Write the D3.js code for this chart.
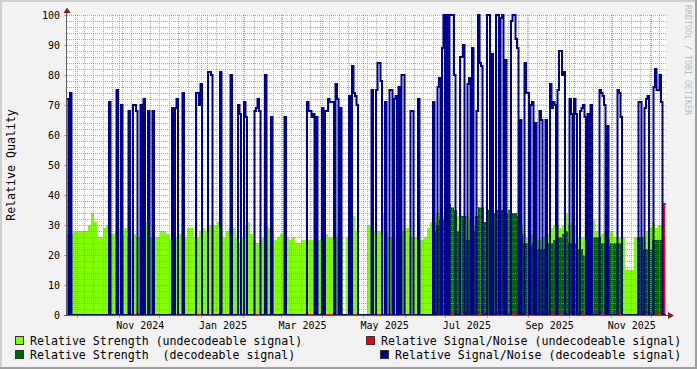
<!DOCTYPE html>
<html>
<head>
<meta charset="utf-8">
<script src="https://cdnjs.cloudflare.com/ajax/libs/d3/7.8.5/d3.min.js"></script>
<style>
  body { margin: 0; background: #f2f2f2; }
  svg { display: block; }
  text { font-family: "DejaVu Sans Mono", monospace; white-space: pre; }
</style>
</head>
<body>
<div id="chart"></div>
<script>
// strength samples: one every ~2.23 days, s/n samples twice as often
var firstSample = new Date(2024, 8, 23, 8, 24);
var stepMs = 192470000;
var snrStepMs = stepMs / 2;

// Relative Strength (undecodeable signal), light green area
var strengthUndecodeable = [
  27,27,28,28,28,28,28,30,34,31, 26,26,29,30,27,27,28,29,27,29,
  26,25,27,26,26,26,31,26,26,26, 26,28,28,27,25,26,26,27,28,26,
  29,29,26,26,28,29,28,30,30,30, 31,29,26,28,29,29,26,24,26,30,
  31,27,25,24,25,26,30,29,28,25, 26,27,26,26,25,26,24,24,25,25,
  25,25,25,25,25,25,27,26,26,26, 27,26,null,26,28,33,28,null,null,null,
  30,29,28,28,28,34,28,26,26,26, 26,28,28,29,26,26,26,25,25,26,
  29,31,31,34,33,33,34,35,33,35, 33,33,31,33,32,30,33,34,34,31,
  32,31,33,35,35,34,34,33,33,34, 31,30,27,26,27,27,25,25,26,26,
  27,29,30,30,29,30,34,30,31,30, 26,26,26,26,26,32,28,26,27,28,
  26,28,26,26,26,26,15,15,15,26, 26,26,26,28,29,31,29,30,30,26
];

// Relative Strength (decodeable signal), dark green area
var strengthDecodeable = [
  0,0,0,0,0,0,0,0,0,0, 0,0,0,0,0,0,0,0,0,0,
  0,0,0,0,0,0,0,0,0,0, 0,0,0,0,0,0,0,0,0,0,
  0,0,0,0,0,0,0,0,0,0, 0,0,0,0,0,0,0,0,0,0,
  0,0,0,0,0,0,0,0,0,0, 0,0,0,0,0,0,0,0,0,0,
  0,0,0,0,0,0,0,0,0,0, 0,0,0,0,0,0,0,0,0,0,
  0,0,0,0,0,0,0,0,0,0, 0,0,0,0,0,0,0,0,0,0,
  0,0,28,30,32,32,33,37,36,35, 28,33,33,25,25,28,33,36,36,31,
  35,35,34,35,35,35,34,35,34,34, 33,27,24,24,23,24,22,22,22,22,
  24,24,25,26,26,27,28,24,24,24, 22,22,20,22,24,26,26,26,24,24,
  23,24,24,24,24,0,0,0,0,0, 26,26,22,22,22,25,25,25,25,0
];

// Relative Signal/Noise (undecodeable signal), red line
var snrUndecodeable = [
  0,0,0,0,0,0,0,0,0,0, 0,0,0,0,0,0,0,0,0,0,
  0,0,0,0,0,0,0,0,0,0, 0,0,0,0,0,0,0,0,0,0,
  0,0,0,0,0,0,0,0,0,0, 0,0,0,0,0,0,0,0,0,0,
  0,0,0,0,0,0,0,0,0,0, 0,0,0,0,0,0,0,0,0,0,
  0,0,0,0,0,0,0,0,0,0, 0,0,0,0,0,0,0,0,0,0,
  0,0,0,0,0,0,0,0,0,0, 0,0,0,0,0,0,0,0,0,0,
  0,0,0,0,0,0,0,0,0,0, 0,0,0,0,0,0,0,0,0,0,
  0,0,0,0,0,0,0,0,0,0, 0,0,0,0,0,0,0,0,0,0,
  0,0,0,0,0,0,0,0,0,0, 0,0,0,0,0,0,0,0,0,0,
  0,0,0,0,0,0,0,0,0,0, 0,0,0,0,0,0,0,0,0,37
];

// Relative Signal/Noise (decodeable signal), blue line (half-column samples)
var snrDecodeable = [
  72,0,74,0,0,0,0,0,0,0, 0,0,0,0,0,0,0,0,0,0,
  0,0,0,0,0,0,0,0,71,0, 0,0,0,75,0,0,70,0,0,0,
  0,68,0,0,70,70,68,0,0,70, 0,72,0,0,68,0,0,68,0,0,
  0,0,0,0,0,0,0,0,0,0, 69,0,69,72,0,0,0,74,0,0,
  0,0,0,0,0,0,74,74,70,77, 0,0,0,0,81,81,80,0,0,0,
  0,0,81,0,0,0,0,0,0,80, 0,0,0,0,70,67,0,0,71,66,
  0,0,0,0,0,68,69,72,68,0, 0,0,80,0,0,0,66,0,0,0,
  0,0,0,0,0,66,0,0,0,0, 0,0,0,0,0,0,0,0,0,0,
  71,68,68,66,67,0,66,0,0,0, 69,0,68,68,72,71,71,71,0,77,
  72,0,69,0,0,0,0,0,73,0, 83,74,73,70,0,0,0,0,0,0,
  0,0,0,75,0,0,75,84,84,78, 0,0,71,0,0,75,75,0,72,73,
  0,76,0,80,80,0,0,0,0,68, 68,0,0,0,72,0,0,0,0,0,
  0,0,0,0,71,0,0,76,79,0, 89,100,0,100,0,100,100,100,80,0,
  0,0,86,86,90,0,0,77,79,0, 89,0,0,68,100,84,83,0,0,0,
  100,100,0,87,0,0,100,100,0,99, 100,0,85,0,0,0,98,100,100,92,
  89,0,65,0,0,84,74,74,0,70, 71,0,64,0,0,68,65,0,0,65,
  0,0,77,69,71,70,0,75,88,88, 80,81,0,0,0,72,67,0,72,67,
  0,0,68,69,70,66,0,67,0,70, 0,0,0,0,0,75,74,73,70,0,
  63,0,0,0,0,0,0,75,74,66, 0,0,0,0,0,0,0,0,0,0,
  0,71,71,0,0,69,72,73,0,0, 0,76,82,75,75,80,71,0,0,0
];

var yTicks = [0, 10, 20, 30, 40, 50, 60, 70, 80, 90, 100];
var xTickLabels = ["Nov 2024", "Jan 2025", "Mar 2025", "May 2025", "Jul 2025", "Sep 2025", "Nov 2025"];

var legendItems = [
  {label: "Relative Strength (undecodeable signal)", color: "#80ff00", x: 15, row: 0},
  {label: "Relative Signal/Noise (undecodeable signal)", color: "#ff0000", x: 366, row: 0},
  {label: "Relative Strength  (decodeable signal)", color: "#006600", x: 15, row: 1},
  {label: "Relative Signal/Noise (decodeable signal)", color: "#000090", x: 380, row: 1}
];

var plot = {left: 67, right: 666, top: 15, bottom: 315};
var minorGrid = "rgba(143,143,143,0.75)";
var majorGrid = "rgba(222,79,79,0.6)";

var lastTime = new Date(firstSample.getTime() + (plot.right - plot.left) / 3 * stepMs);

var x = d3.scaleTime().domain([firstSample, lastTime]).range([plot.left, plot.right]);
var y = d3.scaleLinear().domain([0, 100]).range([plot.bottom, plot.top]);

var svg = d3.select("#chart").append("svg")
    .attr("width", 697)
    .attr("height", 369);

// background + shaded frame
svg.append("rect").attr("width", 697).attr("height", 369).attr("fill", "#f2f2f2");
svg.append("rect").attr("x", 0).attr("y", 0).attr("width", 697).attr("height", 2).attr("fill", "#cfcfcf");
svg.append("rect").attr("x", 0).attr("y", 0).attr("width", 2).attr("height", 369).attr("fill", "#cfcfcf");
svg.append("rect").attr("x", 0).attr("y", 367).attr("width", 697).attr("height", 2).attr("fill", "#9e9e9e");
svg.append("rect").attr("x", 695).attr("y", 0).attr("width", 2).attr("height", 369).attr("fill", "#9e9e9e");

// canvas
svg.append("rect")
    .attr("x", plot.left).attr("y", plot.top)
    .attr("width", plot.right - plot.left).attr("height", plot.bottom - plot.top)
    .attr("fill", "#ffffff");

svg.append("clipPath").attr("id", "plotclip")
  .append("rect")
    .attr("x", plot.left).attr("y", plot.top - 2)
    .attr("width", plot.right - plot.left).attr("height", plot.bottom - plot.top + 2);

var g = svg.append("g").attr("clip-path", "url(#plotclip)");

// every sample becomes two points so the curves come out as steps
function stepPoints(values, step) {
  var pts = [];
  values.forEach(function(v, i) {
    pts.push({t: new Date(firstSample.getTime() + i * step), v: v});
    pts.push({t: new Date(firstSample.getTime() + (i + 1) * step), v: v});
  });
  return pts;
}

var area = d3.area()
    .defined(function(d) { return d.v != null; })
    .x(function(d) { return x(d.t); })
    .y0(y(0))
    .y1(function(d) { return y(d.v); });

var line = d3.line()
    .x(function(d) { return x(d.t); })
    .y(function(d) { return y(d.v); });

g.append("path").attr("d", area(stepPoints(strengthUndecodeable, stepMs))).attr("fill", "#80ff00");
g.append("path").attr("d", area(stepPoints(strengthDecodeable, stepMs))).attr("fill", "#006600");

// grid (weekly / monthly, every 2 / every 10)
var weeks = d3.timeWeek.range(firstSample, lastTime);
var months = d3.timeMonth.range(firstSample, lastTime);
var monthKeys = months.map(function(m) { return +m; });

g.selectAll("line.vminor").data(weeks.filter(function(w) { return monthKeys.indexOf(+w) < 0; }))
  .enter().append("line")
    .attr("x1", function(d) { return Math.round(x(d)) + 0.5; })
    .attr("x2", function(d) { return Math.round(x(d)) + 0.5; })
    .attr("y1", plot.top).attr("y2", plot.bottom)
    .attr("stroke", minorGrid).attr("stroke-dasharray", "1,1");

var hMinor = d3.range(2, 100, 2).filter(function(v) { return v % 10 != 0; });
g.selectAll("line.hminor").data(hMinor)
  .enter().append("line")
    .attr("x1", plot.left).attr("x2", plot.right)
    .attr("y1", function(d) { return Math.round(y(d)) + 0.5; })
    .attr("y2", function(d) { return Math.round(y(d)) + 0.5; })
    .attr("stroke", minorGrid).attr("stroke-dasharray", "1,1");

g.selectAll("line.vmajor").data(months)
  .enter().append("line")
    .attr("x1", function(d) { return Math.round(x(d)) + 0.5; })
    .attr("x2", function(d) { return Math.round(x(d)) + 0.5; })
    .attr("y1", plot.top).attr("y2", plot.bottom)
    .attr("stroke", majorGrid).attr("stroke-dasharray", "1,1");

g.selectAll("line.hmajor").data(yTicks.filter(function(v) { return v > 0; }))
  .enter().append("line")
    .attr("x1", plot.left).attr("x2", plot.right)
    .attr("y1", function(d) { return Math.round(y(d)) + 0.5; })
    .attr("y2", function(d) { return Math.round(y(d)) + 0.5; })
    .attr("stroke", majorGrid).attr("stroke-dasharray", "1,1");

// lines
g.append("path").attr("d", line(stepPoints(snrUndecodeable, stepMs)))
    .attr("fill", "none").attr("stroke", "#ff0000").attr("stroke-width", 2);
g.append("path").attr("d", line(stepPoints(snrDecodeable, snrStepMs)))
    .attr("fill", "none").attr("stroke", "#000090").attr("stroke-width", 2);

// tick marks outside the canvas
svg.selectAll("line.mtick").data(months)
  .enter().append("line")
    .attr("x1", function(d) { return Math.round(x(d)) + 0.5; })
    .attr("x2", function(d) { return Math.round(x(d)) + 0.5; })
    .attr("y1", plot.bottom).attr("y2", plot.bottom + 3)
    .attr("stroke", majorGrid);
svg.selectAll("line.ytick").data(yTicks)
  .enter().append("line")
    .attr("x1", plot.left - 3).attr("x2", plot.left)
    .attr("y1", function(d) { return Math.round(y(d)) + 0.5; })
    .attr("y2", function(d) { return Math.round(y(d)) + 0.5; })
    .attr("stroke", majorGrid);

// axes
svg.append("line").attr("x1", plot.left - 0.5).attr("x2", plot.left - 0.5)
    .attr("y1", plot.bottom + 1).attr("y2", 10).attr("stroke", "#5a5a5a");
svg.append("line").attr("x1", plot.left - 3).attr("x2", 670)
    .attr("y1", plot.bottom + 0.5).attr("y2", plot.bottom + 0.5).attr("stroke", "#5a5a5a");
svg.append("path").attr("d", "M63.5,13 L70.5,13 L67,7.5 Z").attr("fill", "#801f1f");
svg.append("path").attr("d", "M668,312 L668,319 L674,315.5 Z").attr("fill", "#801f1f");

// y labels
svg.selectAll("text.ylab").data(yTicks)
  .enter().append("text")
    .attr("x", 60)
    .attr("y", function(d) { return y(d) + 3.5; })
    .attr("text-anchor", "end")
    .attr("font-size", "10px")
    .text(function(d) { return d; });

// x labels, centred on the middle of their month
var parseMonth = d3.timeParse("%b %Y");
svg.selectAll("text.xlab").data(xTickLabels)
  .enter().append("text")
    .attr("x", function(d) {
      var m = parseMonth(d);
      return (x(m) + x(d3.timeMonth.offset(m, 1))) / 2 + 1;
    })
    .attr("y", 328.5)
    .attr("text-anchor", "middle")
    .attr("font-size", "10px")
    .text(function(d) { return d; });

// axis title
svg.append("text")
    .attr("transform", "translate(15,165) rotate(-90)")
    .attr("text-anchor", "middle")
    .attr("font-size", "11.6px")
    .text("Relative Quality");

// watermark
svg.append("text")
    .attr("transform", "translate(684.5,5) rotate(90)")
    .attr("font-size", "8.3px")
    .attr("fill", "#bdbdbd")
    .text("RRDTOOL / TOBI OETIKER");

// legend
var leg = svg.selectAll("g.legend").data(legendItems)
  .enter().append("g")
    .attr("transform", function(d) { return "translate(" + d.x + "," + (336 + d.row * 14) + ")"; });
leg.append("rect")
    .attr("x", 0.5).attr("y", 0.5).attr("width", 8).attr("height", 8)
    .attr("fill", function(d) { return d.color; })
    .attr("stroke", "#333");
leg.append("text")
    .attr("x", 15).attr("y", 9.3)
    .attr("font-size", "11.6px")
    .text(function(d) { return d.label; });
</script>
</body>
</html>
